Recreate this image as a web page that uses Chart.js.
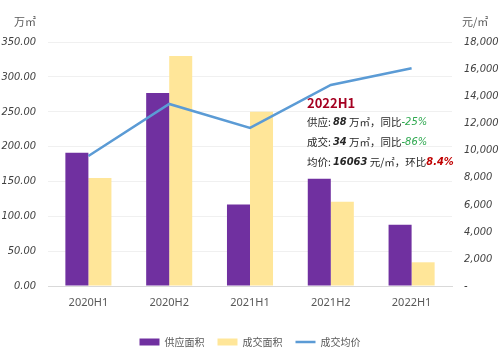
<!DOCTYPE html>
<html>
<head>
<meta charset="utf-8">
<script src="https://cdn.jsdelivr.net/npm/chart.js@4"></script>
<style>
  html, body { margin: 0; padding: 0; background: #fff; }
  #wrap { width: 500px; height: 362px; }
</style>
</head>
<body>
<div id="wrap"><canvas id="mixChart"></canvas></div>
<script>
const categories = ['2020H1', '2020H2', '2021H1', '2021H2', '2022H1'];
const supplyArea = [191, 277, 117, 154, 88];
const dealArea = [155, 330, 250, 121, 34];
const avgPrice = [9590, 13430, 11660, 14830, 16063];

const narrow = '"DejaVu Sans Condensed", sans-serif';
const tickFont = { family: narrow, size: 11, style: 'italic' };
const cjk = '"Noto Sans CJK SC"';

// axis units + 2022H1 note
const notePlugin = {
  id: 'notes',
  afterDraw(chart) {
    const ctx = chart.ctx;
    ctx.save();
    ctx.fillStyle = '#595959';
    ctx.font = '11px ' + cjk;
    ctx.textBaseline = 'middle';
    ctx.textAlign = 'right';
    ctx.fillText('万㎡', 36, 22);
    ctx.textAlign = 'left';
    ctx.fillText('元/㎡', 462, 22);

    const x0 = 307;
    ctx.font = 'bold 13px ' + cjk;
    ctx.fillStyle = '#A50021';
    ctx.fillText('2022H1', x0, 103);

    const rows = [
      [['供应:', 'n'], ['88', 'b'], [' 万㎡，同比', 'n'], ['-25%', 'g']],
      [['成交:', 'n'], ['34', 'b'], [' 万㎡，同比', 'n'], ['-86%', 'g']],
      [['均价:', 'n'], ['16063', 'b'], [' 元/㎡，环比', 'n'], ['8.4%', 'r']]
    ];
    const ys = [122, 142, 162];
    rows.forEach((row, i) => {
      let x = x0;
      row.forEach(([txt, kind]) => {
        if (kind === 'n') { ctx.font = '10.5px ' + cjk; ctx.fillStyle = '#262626'; }
        if (kind === 'b') { ctx.font = 'italic bold 11px ' + narrow; ctx.fillStyle = '#262626'; x += 2; }
        if (kind === 'g') { ctx.font = 'italic 11px ' + narrow; ctx.fillStyle = '#2EA84F'; }
        if (kind === 'r') { ctx.font = 'italic bold 11px ' + narrow; ctx.fillStyle = '#C00000'; }
        ctx.fillText(txt, x, ys[i]);
        x += ctx.measureText(txt).width;
      });
    });
    ctx.restore();
  }
};

const ctx = document.getElementById('mixChart').getContext('2d');
new Chart(ctx, {
  data: {
    labels: categories,
    datasets: [
      {
        type: 'line',
        label: '成交均价',
        data: avgPrice,
        yAxisID: 'yPrice',
        borderColor: '#5B9BD5',
        backgroundColor: '#5B9BD5',
        borderWidth: 2.5,
        pointRadius: 0,
        pointStyle: 'line',
        tension: 0,
        order: 0
      },
      {
        type: 'bar',
        label: '供应面积',
        data: supplyArea,
        yAxisID: 'yArea',
        backgroundColor: '#7030A0',
        pointStyle: 'rect',
        categoryPercentage: 0.57,
        barPercentage: 1,
        order: 1
      },
      {
        type: 'bar',
        label: '成交面积',
        data: dealArea,
        yAxisID: 'yArea',
        backgroundColor: '#FFE699',
        pointStyle: 'rect',
        categoryPercentage: 0.57,
        barPercentage: 1,
        order: 2
      }
    ]
  },
  options: {
    responsive: true,
    maintainAspectRatio: false,
    animation: false,
    layout: { padding: { top: 42, left: 0, right: 0, bottom: 5 } },
    plugins: {
      tooltip: { enabled: false },
      legend: {
        position: 'bottom',
        labels: {
          usePointStyle: true,
          pointStyleWidth: 20,
          boxHeight: 7,
          padding: 13,
          color: '#595959',
          font: { family: 'Noto Sans CJK SC', size: 10 },
          sort: (a, b) => {
            const ord = ['供应面积', '成交面积', '成交均价'];
            return ord.indexOf(a.text) - ord.indexOf(b.text);
          }
        }
      }
    },
    scales: {
      x: {
        grid: { display: false, drawTicks: false },
        border: { color: '#d9d9d9', width: 1 },
        ticks: { color: '#595959', font: { family: 'Noto Sans', size: 11 }, padding: 10 },
        afterFit: s => { s.height = 38; }
      },
      yArea: {
        position: 'left',
        min: 0,
        max: 350,
        ticks: {
          stepSize: 50,
          color: '#404040',
          font: tickFont,
          padding: 12,
          callback: v => v.toFixed(2)
        },
        grid: { color: '#f0f0f0', drawTicks: false },
        border: { display: false },
        afterFit: s => { s.width = 48; }
      },
      yPrice: {
        position: 'right',
        min: 0,
        max: 18000,
        ticks: {
          stepSize: 2000,
          color: '#404040',
          font: tickFont,
          padding: 12,
          callback: v => v === 0 ? '-' : v.toLocaleString('en-US')
        },
        grid: { display: false, drawTicks: false },
        border: { display: false },
        afterFit: s => { s.width = 48; }
      }
    }
  },
  plugins: [notePlugin]
});
</script>
</body>
</html>
